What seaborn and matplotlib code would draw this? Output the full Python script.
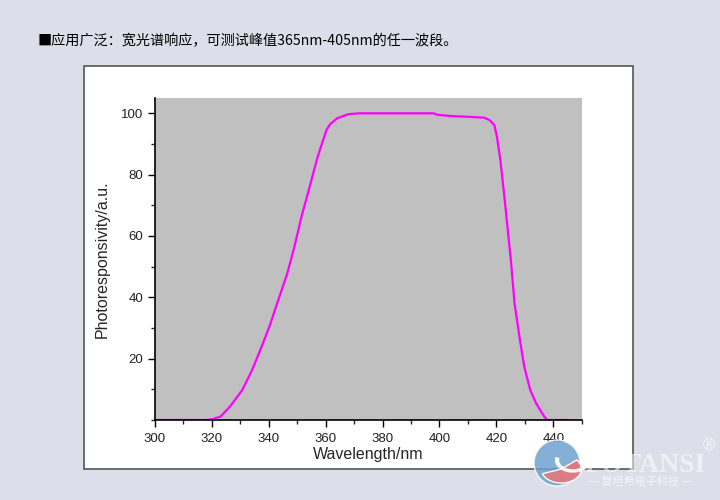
import matplotlib
matplotlib.use("Agg")
import matplotlib.pyplot as plt
import matplotlib.patches as mpatches
import pandas as pd
import seaborn as sns
from matplotlib.ticker import MultipleLocator

# spectral response
wavelength = [300, 310, 318, 320, 323, 326.3, 330.7, 333.9, 337, 340.2, 343.3, 346.5,
              349, 351.5, 354.7, 357.2, 360.3, 361.6, 364.1, 367.9, 371.7, 380, 390,
              398, 399.4, 404.4, 409.4, 415.7, 417.6, 419.3, 420.2, 421.4, 422.7,
              423.9, 425.2, 426.4, 428.1, 429.8, 431.9, 434, 436.5, 437.8, 440, 445]
response = [0, 0, 0, 0.2, 1.1, 4.3, 9.8, 15.8, 22.8, 30.4, 39, 47.8,
            56.5, 66.3, 77.2, 85.9, 94.6, 96.5, 98.4, 99.7, 100, 100, 100,
            100, 99.5, 99.1, 98.9, 98.6, 97.8, 96.2, 92.4, 84.8, 73.9,
            63, 51.1, 38, 27.2, 17.4, 9.8, 5.4, 1.6, 0, 0, 0]

title = "■应用广泛：宽光谱响应，可测试峰值365nm-405nm的任一波段。"
xlabel = "Wavelength/nm"
ylabel = "Photoresponsivity/a.u."

df = pd.DataFrame({"wavelength": wavelength, "response": response})

sns.set_style("ticks")
plt.rcParams["font.family"] = ["Liberation Sans", "Noto Sans CJK SC", "DejaVu Sans"]

fig = plt.figure(figsize=(7.2, 5), dpi=100)
fig.patch.set_facecolor("#dcdee9")

# white panel behind the chart
panel = mpatches.Rectangle((84 / 720, 1 - 469 / 500), (633 - 84) / 720, (469 - 66) / 500,
                           transform=fig.transFigure, facecolor="white",
                           edgecolor="#555555", linewidth=1.2, zorder=-5)
fig.patches.append(panel)

fig.text(38 / 720, 1 - 41 / 500, title, fontsize=10.2, va="center", ha="left",
         family=["Noto Sans CJK SC", "DejaVu Sans"], color="black")

ax = fig.add_axes([155 / 720, 80 / 500, (581.7 - 155) / 720, (420 - 98) / 500])
ax.set_facecolor("#c0c0c0")

sns.lineplot(data=df, x="wavelength", y="response", color="#ff00ff", linewidth=1.6, ax=ax)

ax.set_xlim(300, 450)
ax.set_ylim(0, 105)
ax.set_xticks([300, 320, 340, 360, 380, 400, 420, 440])
ax.xaxis.set_minor_locator(MultipleLocator(10))
ax.set_yticks([20, 40, 60, 80, 100])
ax.yaxis.set_minor_locator(MultipleLocator(10))

ax.tick_params(axis="both", which="major", direction="out", length=5, width=1,
               labelsize=9.5, colors="black", labelcolor="#222222")
ax.tick_params(axis="both", which="minor", direction="out", length=3, width=1)
ax.tick_params(axis="x", pad=4)

for s in ["top", "right"]:
    ax.spines[s].set_visible(False)
for s in ["left", "bottom"]:
    ax.spines[s].set_color("black")
    ax.spines[s].set_linewidth(1.2)

ax.set_xlabel(xlabel, fontsize=11.5, labelpad=2)
ax.set_ylabel(ylabel, fontsize=11.5, labelpad=8)

# watermark logo
cx, cy = 557 / 720, 1 - 463 / 500
logo_blue = mpatches.Ellipse((cx, cy), 46 / 720, 46 / 500, transform=fig.transFigure,
                             facecolor="#6fa3cf", alpha=0.85, zorder=5)
logo_red = mpatches.Wedge((cx + 0.006, cy - 0.012), 0.028, 200, 40,
                          transform=fig.transFigure, facecolor="#e07b7f",
                          alpha=0.95, zorder=6)
logo_cut = mpatches.Wedge((cx + 0.022, cy + 0.006), 0.024, 170, 370,
                          width=0.004, transform=fig.transFigure, facecolor="white",
                          alpha=0.9, zorder=7)
fig.patches.extend([logo_blue, logo_red, logo_cut])
fig.text(645 / 720, 1 - 465 / 500, "FOTANSI", fontsize=20, fontweight="bold",
         color="white", alpha=0.55, ha="center", va="center",
         family=["Liberation Serif", "DejaVu Serif"], zorder=8)
fig.text(709 / 720, 1 - 446 / 500, "®", fontsize=12, color="white", alpha=0.7,
         ha="center", va="center", zorder=8)
fig.text(640 / 720, 1 - 482 / 500, "— 复坦希电子科技 —", fontsize=8, color="white",
         alpha=0.7, ha="center", va="center",
         family=["Noto Sans CJK SC", "DejaVu Sans"], zorder=8)

fig.savefig("out.png", dpi=100, facecolor=fig.get_facecolor())
